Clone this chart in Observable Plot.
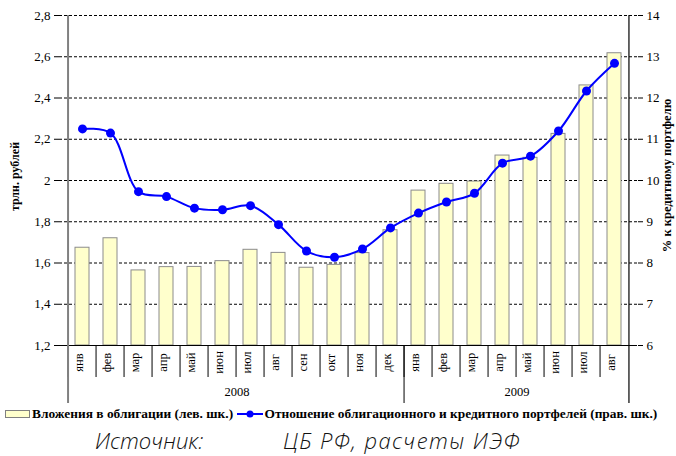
<!DOCTYPE html>
<html>
<head>
<meta charset="utf-8">
<script src="https://cdn.jsdelivr.net/npm/d3@7"></script>
<script src="https://cdn.jsdelivr.net/npm/@observablehq/plot@0.6"></script>
<style>
  html, body { margin: 0; padding: 0; background: #fff; }
  #wrap { position: relative; width: 676px; height: 456px; }
  #chart svg { display: block; }
  .leg { position: absolute; top: 405px; left: 0; height: 16px; font-family: "Liberation Serif", serif; font-weight: bold; font-size: 13.4px; color: #000; white-space: nowrap; }
  .src { position: absolute; top: 425px; font-family: "Open Sans", sans-serif; font-style: italic; font-weight: 300; font-size: 22px; color: #111; white-space: nowrap; }
</style>
</head>
<body>
<div id="wrap">
  <div id="chart"></div>
  <div class="leg" style="left:5px;">
    <svg width="26" height="14" style="vertical-align:middle"><rect x="0.5" y="3.5" width="24" height="7" fill="#FFFFCC" stroke="#808080"/></svg><span style="vertical-align:middle;margin-left:1px;">Вложения в облигации (лев. шк.)</span>
    <svg width="28" height="14" style="vertical-align:middle;margin-left:0px"><line x1="1" y1="7" x2="27" y2="7" stroke="#0000FF" stroke-width="2"/><circle cx="14" cy="7" r="3.5" fill="#0000FF"/></svg><span style="vertical-align:middle">Отношение облигационного и кредитного портфелей (прав. шк.)</span>
  </div>
  <div class="src" style="left:95px;">Источник:</div>
  <div class="src" style="left:283px;letter-spacing:1.4px;">ЦБ РФ, расчеты ИЭФ</div>
</div>
<script>
// ---- data ----
const months = ["янв","фев","мар","апр","май","июн","июл","авг","сен","окт","ноя","дек",
                "янв","фев","мар","апр","май","июн","июл","авг"];
const monthYears = ["2008","2008","2008","2008","2008","2008","2008","2008","2008","2008","2008","2008",
                    "2009","2009","2009","2009","2009","2009","2009","2009"];
const bonds = [1.674,1.72,1.564,1.58,1.581,1.609,1.664,1.649,1.577,1.591,1.648,1.759,
               1.951,1.984,1.995,2.121,2.11,2.226,2.461,2.617];
const ratio = [11.25,11.15,9.73,9.61,9.33,9.29,9.39,8.93,8.29,8.14,8.34,8.85,
               9.21,9.48,9.69,10.42,10.59,11.2,12.17,12.84];
const leftTicks = [1.2,1.4,1.6,1.8,2.0,2.2,2.4,2.6,2.8];
const rightTicks = [6,7,8,9,10,11,12,13,14];
const years = ["2008","2009"];
const leftTitle = "трлн. рублей";
const rightTitle = "% к кредитному портфелю";

// ---- layout ----
const W = 676, H = 405, mL = 59, mR = 39, mT = 15, mB = 60;
const step = (W - mL - mR) / months.length;
const frameH = H - mT - mB;

const keys = months.map((m, i) => `${m} ${monthYears[i]}`);
const data = keys.map((k, i) => ({key: k, month: months[i], year: monthYears[i], bond: bonds[i], ratio: ratio[i]}));

// right scale [6,14] -> left scale [1.2,2.8]
const toLeft = v => 1.2 + (v - 6) * (2.8 - 1.2) / (14 - 6);
const fromLeft = v => 6 + (v - 1.2) * (14 - 6) / (2.8 - 1.2);
const fmtL = d => String(+d.toFixed(1)).replace(".", ",");

const yearStarts = keys.filter((k, i) => i === 0 || monthYears[i] !== monthYears[i - 1]);
const yearLabels = years.map(y => {
  const idx = monthYears.map((v, i) => v === y ? i : -1).filter(i => i >= 0);
  const n = idx.length;
  return {year: y, key: keys[idx[0] + Math.floor(n / 2) - 1]};
});

const chart = Plot.plot({
  width: W, height: H,
  marginLeft: mL, marginRight: mR, marginTop: mT, marginBottom: mB,
  style: {fontFamily: "Liberation Serif, serif", background: "white", overflow: "visible"},
  x: {type: "band", domain: keys, paddingInner: 0.5, paddingOuter: 0.25, axis: null},
  y: {domain: [1.2, 2.8], axis: null},
  marks: [
    Plot.ruleY(leftTicks.filter(d => d > 1.2), {y: d => d, stroke: "#000", strokeWidth: 1, strokeDasharray: "3,2"}),
    Plot.barY(data, {x: "key", y1: 1.2, y2: "bond", fill: "#FFFFCC", stroke: "#8C8C8C", strokeWidth: 1}),
    Plot.ruleY([1.2], {stroke: "#000", strokeWidth: 1}),
    Plot.axisY(leftTicks, {anchor: "left", label: null, tickSize: 5, tickPadding: 4, tickFormat: fmtL,
      fontSize: 13, fill: "#000", stroke: "#000", strokeOpacity: 1}),
    Plot.axisY(rightTicks.map(toLeft), {anchor: "right", label: null, tickSize: 5, tickPadding: 4,
      tickFormat: d => String(Math.round(fromLeft(d))), fontSize: 13, fill: "#000", stroke: "#000", strokeOpacity: 1}),
    Plot.ruleX(keys, {x: d => d, dx: -step / 2, stroke: "#000", strokeWidth: 1, insetTop: frameH, insetBottom: -32}),
    Plot.ruleX(yearStarts.slice(1), {x: d => d, dx: -step / 2, stroke: "#000", strokeWidth: 1, insetTop: frameH, insetBottom: -58}),
    Plot.ruleX([keys[0]], {x: d => d, dx: -step / 2, stroke: "#808080", strokeWidth: 2, insetBottom: -58}),
    Plot.ruleX([keys[keys.length - 1]], {x: d => d, dx: step / 2, stroke: "#000", strokeWidth: 1.2, insetBottom: -58}),
    Plot.text(data, {x: "key", text: "month", frameAnchor: "bottom", dy: 17, rotate: -90,
      textAnchor: "middle", fontSize: 12.5, fill: "#000"}),
    Plot.text(yearLabels, {x: "key", text: "year", frameAnchor: "bottom", dx: step / 2, dy: 50,
      textAnchor: "middle", fontSize: 12.5, fill: "#000"}),
    Plot.line(data, {x: "key", y: d => toLeft(d.ratio), curve: "catmull-rom", stroke: "#0000FF", strokeWidth: 2}),
    Plot.dot(data, {x: "key", y: d => toLeft(d.ratio), r: 4.5, fill: "#0000FF", stroke: "none"}),
    Plot.text([leftTitle], {text: d => d, frameAnchor: "left", dx: -44, dy: -4, rotate: -90,
      fontSize: 12, fontWeight: "bold", fill: "#000", textAnchor: "middle"}),
    Plot.text([rightTitle], {text: d => d, frameAnchor: "right", dx: 29, dy: -5, rotate: -90,
      fontSize: 12.5, fontWeight: "bold", fill: "#000", textAnchor: "middle"})
  ]
});
document.getElementById("chart").appendChild(chart);
</script>
</body>
</html>
